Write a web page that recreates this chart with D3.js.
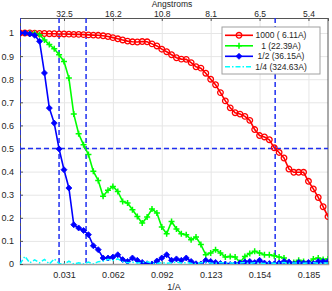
<!DOCTYPE html>
<html>
<head>
<meta charset="utf-8">
<script src="https://cdn.jsdelivr.net/npm/d3@7"></script>
<style>
  body { margin: 0; background: #fff; }
  text { font-family: "Liberation Sans", Arial, sans-serif; fill: #262626; }
</style>
</head>
<body>
<div id="viz_container"></div>
<script>
// spatial frequency of each shell (1/A)
const freq = [0.00308, 0.00615, 0.00923, 0.01231, 0.01538, 0.01846, 0.02154, 0.02462,
  0.02769, 0.03077, 0.03385, 0.03692, 0.04, 0.04308, 0.04615, 0.04923,
  0.05231, 0.05538, 0.05846, 0.06154, 0.06462, 0.06769, 0.07077, 0.07385,
  0.07692, 0.08, 0.08308, 0.08615, 0.08923, 0.09231, 0.09538, 0.09846,
  0.10154, 0.10462, 0.10769, 0.11077, 0.11385, 0.11692, 0.12, 0.12308,
  0.12615, 0.12923, 0.13231, 0.13538, 0.13846, 0.14154, 0.14462, 0.14769,
  0.15077, 0.15385, 0.15692, 0.16, 0.16308, 0.16615, 0.16923, 0.17231,
  0.17538, 0.17846, 0.18154, 0.18462, 0.18769, 0.19077, 0.19385, 0.19692];

// FSC curves
const fsc1000 = [1.0, 1.0, 1.0, 0.999, 0.998, 0.998, 0.997, 0.997, 0.996, 0.996,
  0.995, 0.994, 0.994, 0.993, 0.992, 0.991, 0.99, 0.988, 0.985, 0.98,
  0.975, 0.97, 0.965, 0.962, 0.961, 0.963, 0.962, 0.953, 0.944, 0.93,
  0.919, 0.906, 0.893, 0.887, 0.886, 0.872, 0.854, 0.848, 0.826, 0.8,
  0.776, 0.742, 0.706, 0.676, 0.655, 0.649, 0.639, 0.622, 0.582, 0.556,
  0.55, 0.538, 0.503, 0.483, 0.459, 0.411, 0.397, 0.397, 0.397, 0.358,
  0.325, 0.288, 0.248, 0.205];
const fsc1 = [1.0, 1.0, 1.0, 0.998, 0.993, 0.97, 0.95, 0.932, 0.906, 0.877,
  0.805, 0.649, 0.564, 0.516, 0.474, 0.401, 0.362, 0.293, 0.319, 0.336,
  0.314, 0.271, 0.264, 0.235, 0.206, 0.177, 0.203, 0.238, 0.221, 0.16,
  0.131, 0.184, 0.152, 0.131, 0.127, 0.105, 0.117, 0.084, 0.04, 0.048,
  0.062, 0.048, 0.03, 0.033, 0.03, 0.007, 0.033, 0.045, 0.055, 0.048,
  0.04, 0.04, 0.036, 0.03, 0.026, 0.0, 0.007, 0.016, 0.011, 0.004,
  0.022, 0.026, 0.019, 0.022];
const fscHalf = [1.0, 1.0, 0.996, 0.99, 0.964, 0.827, 0.675, 0.61, 0.498, 0.408,
  0.329, 0.17, 0.156, 0.145, 0.127, 0.079, 0.062, 0.026, 0.026, 0.03,
  0.04, 0.019, 0.011, 0.026, 0.016, 0.007, 0.001, 0.0, 0.013, 0.026,
  0.04, 0.016, 0.022, 0.016, 0.026, 0.011, 0.001, 0.0, 0.016, 0.011,
  0.007, 0.002, 0.0, -0.002, 0.0, 0.004, 0.009, 0.011, 0.006, 0.016,
  0.004, 0.002, 0.0, 0.004, 0.011, 0.009, 0.0, 0.007, 0.004, 0.007,
  0.002, 0.011, 0.011, 0.011];
const fscQuarter = [0.0, 0.033, 0.005, 0.018, 0.005, 0.02, 0.0, 0.022, 0.002, 0.0,
  0.012, 0.0, 0.005, 0.0, 0.008, 0.0, 0.01, 0.012, 0.02, 0.015,
  0.022, 0.01, 0.005, 0.008, 0.004, 0.006, 0.01, 0.004, 0.002, 0.006,
  0.003, 0.005, 0.008, 0.004, 0.006, 0.003, 0.002, 0.005, 0.007, 0.004,
  0.003, 0.006, 0.004, 0.005, 0.003, 0.004, 0.006, 0.003, 0.005, 0.004,
  0.002, 0.005, 0.003, 0.004, 0.006, 0.003, 0.004, 0.005, 0.003, 0.004,
  0.005, 0.003, 0.004, 0.004];

// legend names and resolution cut-offs (A)
const seriesNames = ["1000 ( 6.11A)", "1 (22.39A)", "1/2 (36.15A)", "1/4 (324.63A)"];
const cutoffs = [6.11, 22.39, 36.15, 324.63];

// tick labels
const xTicks = [0.03077, 0.06154, 0.09231, 0.12308, 0.15385, 0.18462];
const xTickLabels = ["0.031", "0.062", "0.092", "0.123", "0.154", "0.185"];
const topTickLabels = ["32.5", "16.2", "10.8", "8.1", "6.5", "5.4"];
const yTicks = [0, 0.1, 0.2, 0.3, 0.4, 0.5, 0.6, 0.7, 0.8, 0.9, 1];
const yTickLabels = ["0", "0.1", "0.2", "0.3", "0.4", "0.5", "0.6", "0.7", "0.8", "0.9", "1"];

const width = 332, height = 291;
const margin = {top: 18, right: 4, bottom: 27, left: 20};

const svg = d3.select("#viz_container")
  .append("svg")
    .attr("width", width)
    .attr("height", height);

const x = d3.scaleLinear()
  .domain([freq[0], freq[freq.length - 1]])
  .range([margin.left, width - margin.right]);
const y = d3.scaleLinear()
  .domain([0, 1.065])
  .range([height - margin.bottom, margin.top]);

const plotW = width - margin.left - margin.right;
const plotH = height - margin.top - margin.bottom;

// clip for the data
svg.append("clipPath").attr("id", "clip")
  .append("rect")
    .attr("x", margin.left).attr("y", margin.top)
    .attr("width", plotW).attr("height", plotH);

// grid
svg.append("g")
  .attr("transform", `translate(0,${height - margin.bottom})`)
  .call(d3.axisBottom(x).tickValues(xTicks).tickSize(-plotH).tickFormat(""))
  .call(g => g.select(".domain").remove())
  .selectAll("line").attr("stroke", "#e6e6e6");
svg.append("g")
  .attr("transform", `translate(${margin.left},0)`)
  .call(d3.axisLeft(y).tickValues(yTicks).tickSize(-plotW).tickFormat(""))
  .call(g => g.select(".domain").remove())
  .selectAll("line").attr("stroke", "#e6e6e6");

// bottom axis
const xAxis = svg.append("g")
  .attr("transform", `translate(0,${height - margin.bottom})`)
  .call(d3.axisBottom(x).tickValues(xTicks).tickSize(-3).tickPadding(8)
    .tickFormat((d, i) => xTickLabels[i]));
xAxis.select(".domain").attr("stroke", "#a0a0a0").attr("stroke-width", 1.5);
xAxis.selectAll("line").attr("stroke", "#555");
xAxis.selectAll("text").attr("font-size", 9).attr("fill", "#262626");

// top axis
const topAxis = svg.append("g")
  .attr("transform", `translate(0,${margin.top})`)
  .call(d3.axisTop(x).tickValues(xTicks).tickSize(-3).tickPadding(1.5)
    .tickFormat((d, i) => topTickLabels[i]));
topAxis.select(".domain").attr("stroke", "#555");
topAxis.selectAll("line").attr("stroke", "#555");
topAxis.selectAll("text").attr("font-size", 8.5).attr("fill", "#262626");

// left axis
const yAxis = svg.append("g")
  .attr("transform", `translate(${margin.left},0)`)
  .call(d3.axisLeft(y).tickValues(yTicks).tickSize(-3).tickPadding(6)
    .tickFormat((d, i) => yTickLabels[i]));
yAxis.select(".domain").attr("stroke", "#555");
yAxis.selectAll("line").attr("stroke", "#555");
yAxis.selectAll("text").attr("font-size", 9).attr("fill", "#262626");

// right border
svg.append("line")
  .attr("x1", width - margin.right).attr("x2", width - margin.right)
  .attr("y1", margin.top).attr("y2", height - margin.bottom)
  .attr("stroke", "#555");

// axis titles
svg.append("text")
  .attr("x", 172).attr("y", 6.5)
  .attr("text-anchor", "middle").attr("font-size", 8.5)
  .text("Angstroms");
svg.append("text")
  .attr("x", (margin.left + width - margin.right) / 2).attr("y", 290)
  .attr("text-anchor", "middle").attr("font-size", 9)
  .text("1/A");

const plot = svg.append("g").attr("clip-path", "url(#clip)");

// dashed reference lines
const refColor = "#1f2ff0";
plot.append("line")
  .attr("x1", margin.left).attr("x2", width - margin.right)
  .attr("y1", y(0.5)).attr("y2", y(0.5))
  .attr("stroke", refColor).attr("stroke-width", 1.5).attr("stroke-dasharray", "5,3");
plot.selectAll(".cut")
  .data(cutoffs)
  .join("line")
    .attr("class", "cut")
    .attr("x1", d => x(1 / d)).attr("x2", d => x(1 / d))
    .attr("y1", margin.top).attr("y2", height - margin.bottom)
    .attr("stroke", refColor).attr("stroke-width", 1.5).attr("stroke-dasharray", "5,3");

const series = [
  {name: seriesNames[0], values: fsc1000, color: "#ff0000", marker: "circle"},
  {name: seriesNames[1], values: fsc1, color: "#00ff00", marker: "plus"},
  {name: seriesNames[2], values: fscHalf, color: "#0000ff", marker: "diamond"},
  {name: seriesNames[3], values: fscQuarter, color: "#00ffff", marker: "none"}
];

const line = d3.line().x((d, i) => x(freq[i])).y(d => y(d));

function drawMarker(g, type, color) {
  if (type === "circle") {
    g.append("circle").attr("r", 2.8).attr("fill", "none")
      .attr("stroke", color).attr("stroke-width", 1.3);
  } else if (type === "plus") {
    g.append("path").attr("d", "M-3,0H3M0,-3V3")
      .attr("stroke", color).attr("stroke-width", 1.5);
  } else if (type === "diamond") {
    g.append("path").attr("d", "M0,-3L3,0L0,3L-3,0Z")
      .attr("fill", color).attr("stroke", color).attr("stroke-width", 0.8);
  }
}

series.forEach(s => {
  plot.append("path")
    .datum(s.values)
    .attr("fill", "none")
    .attr("stroke", s.color)
    .attr("stroke-width", s.marker === "none" ? 1.5 : 1.6)
    .attr("stroke-dasharray", s.marker === "none" ? "5,2,1.5,2" : null)
    .attr("d", line);
  if (s.marker !== "none") {
    plot.append("g").selectAll("g")
      .data(s.values)
      .join("g")
        .attr("transform", (d, i) => `translate(${x(freq[i])},${y(d)})`)
        .each(function() { drawMarker(d3.select(this), s.marker, s.color); });
  }
});

// legend
const legend = svg.append("g");
legend.append("rect")
  .attr("x", 222).attr("y", 27).attr("width", 98).attr("height", 47)
  .attr("fill", "#fff").attr("stroke", "#a0a0a0").attr("stroke-width", 1);
series.forEach((s, i) => {
  const ly = 35.3 + i * 10.5;
  legend.append("line")
    .attr("x1", 225).attr("x2", 253).attr("y1", ly).attr("y2", ly)
    .attr("stroke", s.color).attr("stroke-width", 1.6)
    .attr("stroke-dasharray", s.marker === "none" ? "5,2,1.5,2" : null);
  const m = legend.append("g").attr("transform", `translate(239,${ly})`);
  drawMarker(m, s.marker, s.color);
  legend.append("text")
    .attr("x", 281).attr("y", ly + 3)
    .attr("text-anchor", "middle").attr("font-size", 8.5)
    .text(s.name);
});
</script>
</body>
</html>
